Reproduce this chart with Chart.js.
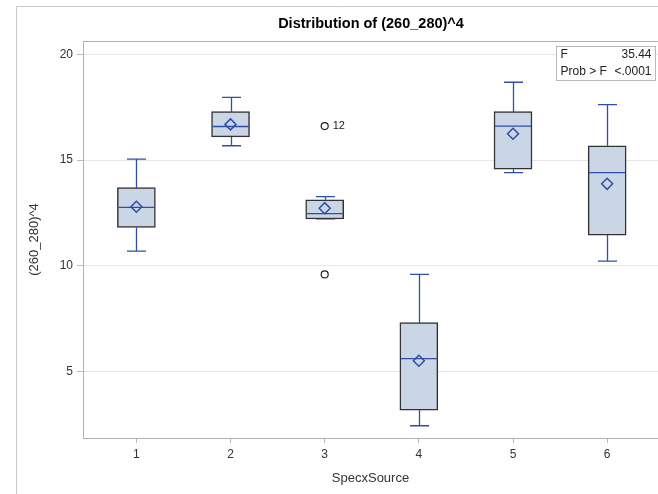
<!DOCTYPE html>
<html lang="en">
<head>
  <title>Distribution of (260_280)^4</title>
  <meta charset="utf-8">
  <script src="https://cdn.jsdelivr.net/npm/chart.js"></script>
  <style>
    html, body { margin: 0; padding: 0; background: #fff; overflow: hidden; }
    .chart-container { width: 658px; height: 494px; position: relative; }
  </style>
</head>
<body>
<div class="chart-container">
  <canvas id="box-chart"></canvas>
</div>
<script>
  // values
  const categories = [1, 2, 3, 4, 5, 6];
  const whiskerLow = [10.70, 15.68, 12.22, 2.45, 14.41, 10.23];
  const q1 = [11.82, 16.10, 12.22, 3.18, 14.57, 11.46];
  const medians = [12.77, 16.59, 12.47, 5.62, 16.61, 14.41];
  const q3 = [13.70, 17.29, 13.13, 7.32, 17.29, 15.68];
  const whiskerHigh = [15.05, 17.97, 13.28, 9.60, 18.68, 17.62];
  const means = [12.80, 16.69, 12.73, 5.52, 16.25, 13.88];
  const outlierCats = [3, 3];
  const outlierValues = [16.61, 9.60];
  const outlierLabels = ['12', ''];
  const yTicks = [5, 10, 15, 20];
  const statNames = ['F', 'Prob > F'];
  const statValues = ['35.44', '<.0001'];

  const BLUE = '#2d4fa6';
  const FONT = '"Liberation Sans", Arial, sans-serif';

  const boxParts = {
    id: 'boxParts',
    beforeDraw: (chart) => {
      const { ctx } = chart;
      ctx.save();
      // outer frame
      ctx.strokeStyle = '#c8c8c8';
      ctx.lineWidth = 1;
      ctx.beginPath();
      ctx.moveTo(16.5, 494);
      ctx.lineTo(16.5, 6.5);
      ctx.lineTo(658, 6.5);
      ctx.stroke();
      // title
      ctx.fillStyle = '#000';
      ctx.font = 'bold 14.5px ' + FONT;
      ctx.textAlign = 'center';
      ctx.textBaseline = 'middle';
      ctx.fillText('Distribution of (260_280)^4', 371, 24);
      ctx.restore();
    },
    beforeDatasetsDraw: (chart) => {
      const { ctx, scales: { x, y }, chartArea } = chart;
      ctx.save();
      // top border of plot area
      ctx.strokeStyle = '#b0b0b0';
      ctx.lineWidth = 1;
      ctx.beginPath();
      ctx.moveTo(chartArea.left, Math.round(chartArea.top) + 0.5);
      ctx.lineTo(chartArea.right, Math.round(chartArea.top) + 0.5);
      ctx.stroke();
      // whiskers and caps
      ctx.strokeStyle = BLUE;
      ctx.lineWidth = 1.3;
      categories.forEach((c, i) => {
        const px = Math.round(x.getPixelForValue(c)) + 0.5;
        const lo = y.getPixelForValue(whiskerLow[i]);
        const hi = y.getPixelForValue(whiskerHigh[i]);
        ctx.beginPath();
        ctx.moveTo(px, hi);
        ctx.lineTo(px, y.getPixelForValue(q3[i]));
        ctx.moveTo(px, y.getPixelForValue(q1[i]));
        ctx.lineTo(px, lo);
        ctx.moveTo(px - 9.5, hi);
        ctx.lineTo(px + 9.5, hi);
        ctx.moveTo(px - 9.5, lo);
        ctx.lineTo(px + 9.5, lo);
        ctx.stroke();
      });
      ctx.restore();
    },
    afterDatasetDraw: (chart, args) => {
      if (args.index !== 0) return;
      const { ctx, scales: { x, y } } = chart;
      ctx.save();
      ctx.strokeStyle = BLUE;
      ctx.lineWidth = 1.3;
      categories.forEach((c, i) => {
        const px = x.getPixelForValue(c);
        const py = y.getPixelForValue(medians[i]);
        ctx.beginPath();
        ctx.moveTo(px - 18, py);
        ctx.lineTo(px + 18, py);
        ctx.stroke();
      });
      ctx.restore();
    },
    afterDraw: (chart) => {
      const { ctx, scales: { x, y } } = chart;
      ctx.save();
      // outlier labels
      ctx.fillStyle = '#222';
      ctx.font = '11px ' + FONT;
      ctx.textAlign = 'left';
      ctx.textBaseline = 'middle';
      outlierCats.forEach((c, i) => {
        if (!outlierLabels[i]) return;
        ctx.fillText(outlierLabels[i], x.getPixelForValue(c) + 8, y.getPixelForValue(outlierValues[i]));
      });
      // inset statistics table
      const bx = 556.5, by = 46.5, bw = 99, bh = 34;
      ctx.fillStyle = '#fff';
      ctx.fillRect(bx, by, bw, bh);
      ctx.strokeStyle = '#b8b8b8';
      ctx.lineWidth = 1;
      ctx.strokeRect(bx, by, bw, bh);
      ctx.fillStyle = '#222';
      ctx.font = '12px ' + FONT;
      statNames.forEach((name, i) => {
        const ty = by + 8.5 + i * 16.5;
        ctx.textAlign = 'left';
        ctx.fillText(name, bx + 4, ty);
        ctx.textAlign = 'right';
        ctx.fillText(statValues[i], bx + bw - 4, ty);
      });
      ctx.restore();
    }
  };

  new Chart(document.getElementById('box-chart'), {
    type: 'bar',
    data: {
      datasets: [{
        type: 'bar',
        data: categories.map((c, i) => ({ x: c, y: [q1[i], q3[i]] })),
        backgroundColor: '#cad5e6',
        borderColor: '#333',
        borderWidth: 1.5,
        borderSkipped: false,
        barThickness: 38,
        order: 3
      }, {
        type: 'scatter',
        data: categories.map((c, i) => ({ x: c, y: means[i] })),
        pointStyle: 'rectRot',
        radius: 5.5,
        borderColor: BLUE,
        borderWidth: 1.5,
        backgroundColor: 'rgba(0,0,0,0)',
        order: 1
      }, {
        type: 'scatter',
        data: outlierCats.map((c, i) => ({ x: c, y: outlierValues[i] })),
        pointStyle: 'circle',
        radius: 3.5,
        borderColor: '#222',
        borderWidth: 1.2,
        backgroundColor: 'rgba(0,0,0,0)',
        order: 2
      }]
    },
    options: {
      responsive: true,
      maintainAspectRatio: false,
      animation: false,
      layout: { autoPadding: false, padding: { top: 41, left: 0, right: 0, bottom: 0 } },
      plugins: {
        legend: { display: false },
        tooltip: { enabled: false }
      },
      scales: {
        x: {
          type: 'linear',
          offset: false,
          min: 0.433,
          max: 6.54,
          afterBuildTicks: (axis) => { axis.ticks = categories.map(v => ({ value: v })); },
          afterFit: (axis) => { axis.height = 56; axis.paddingRight = 0; axis.paddingLeft = 0; },
          grid: { offset: false, drawOnChartArea: false, drawTicks: true, tickLength: 5, color: '#bbb' },
          border: { display: true, color: '#b0b0b0' },
          ticks: { padding: 4, color: '#333', font: { family: FONT, size: 12 } },
          title: {
            display: true,
            text: 'SpecxSource',
            color: '#333',
            font: { family: FONT, size: 13 },
            padding: { top: 0, bottom: 8 }
          }
        },
        y: {
          type: 'linear',
          min: 1.87,
          max: 20.63,
          afterBuildTicks: (axis) => { axis.ticks = yTicks.map(v => ({ value: v })); },
          afterFit: (axis) => { axis.width = 83; },
          grid: { color: '#e6e6e6', tickColor: '#bbb', tickLength: 6 },
          border: { display: true, color: '#b0b0b0' },
          ticks: { padding: 4, color: '#333', font: { family: FONT, size: 12 } },
          title: {
            display: true,
            text: '(260_280)^4',
            color: '#333',
            font: { family: FONT, size: 13 },
            padding: { top: 27, bottom: 0 }
          }
        }
      }
    },
    plugins: [boxParts]
  });
</script>
</body>
</html>
